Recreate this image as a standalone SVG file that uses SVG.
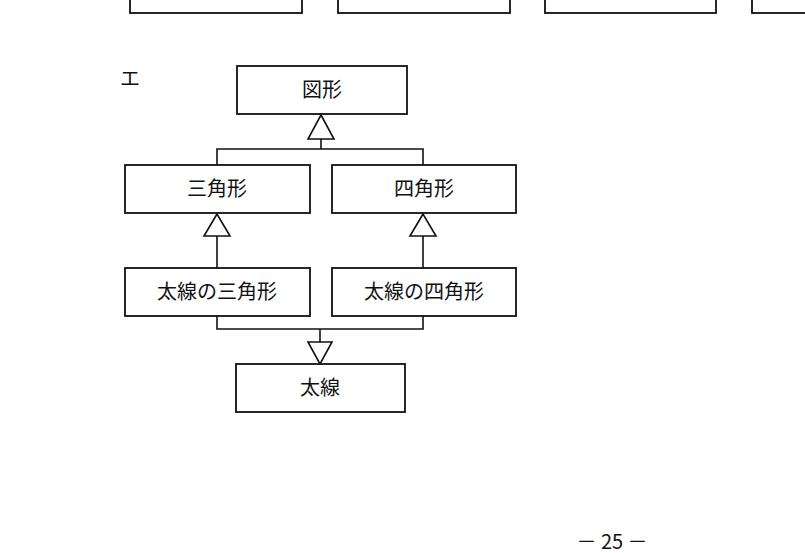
<svg xmlns="http://www.w3.org/2000/svg" width="805" height="553" viewBox="0 0 805 553">
<style>
.b{fill:#fff;stroke:#111;stroke-width:1.8}
.c{fill:none;stroke:#111;stroke-width:1.6}
.h{fill:#fff;stroke:#111;stroke-width:1.6}
text{font-family:"Noto Sans CJK JP","Liberation Sans",sans-serif;font-size:20px;fill:#111;text-anchor:middle}
</style>
<rect width="805" height="553" fill="#fff"/>
<g id="top">
<rect class="b" x="130" y="-20" width="172" height="33"/>
<rect class="b" x="338" y="-20" width="172" height="33"/>
<rect class="b" x="545" y="-20" width="171" height="33"/>
<rect class="b" x="752" y="-20" width="70" height="33"/>
</g>
<text x="130" y="86" font-size="18">エ</text>
<g id="connectors">
<path class="c" d="M217 165V149H423V165M321 149V139"/>
<path class="h" d="M321 115L308 139H334Z"/>
<path class="c" d="M217 236V268M423 236V268"/>
<path class="h" d="M217 214L204 236H230Z"/>
<path class="h" d="M423 214L410 236H436Z"/>
<path class="c" d="M217 316V329H423V316M320 329V342"/>
<path class="h" d="M308 342H332L320 364Z"/>
</g>
<g id="n1"><rect class="b" x="237" y="66" width="170" height="48"/><text x="322" y="97">図形</text></g>
<g id="n2"><rect class="b" x="125" y="165" width="185" height="48"/><text x="217" y="196">三角形</text></g>
<g id="n3"><rect class="b" x="332" y="165" width="184" height="48"/><text x="424" y="196">四角形</text></g>
<g id="n4"><rect class="b" x="125" y="268" width="185" height="48"/><text x="217" y="299">太線の三角形</text></g>
<g id="n5"><rect class="b" x="332" y="268" width="184" height="48"/><text x="424" y="299">太線の四角形</text></g>
<g id="n6"><rect class="b" x="236" y="364" width="169" height="48"/><text x="320" y="395">太線</text></g>
<text x="612" y="549" font-family="Liberation Serif,serif">－ 25 －</text>
</svg>
